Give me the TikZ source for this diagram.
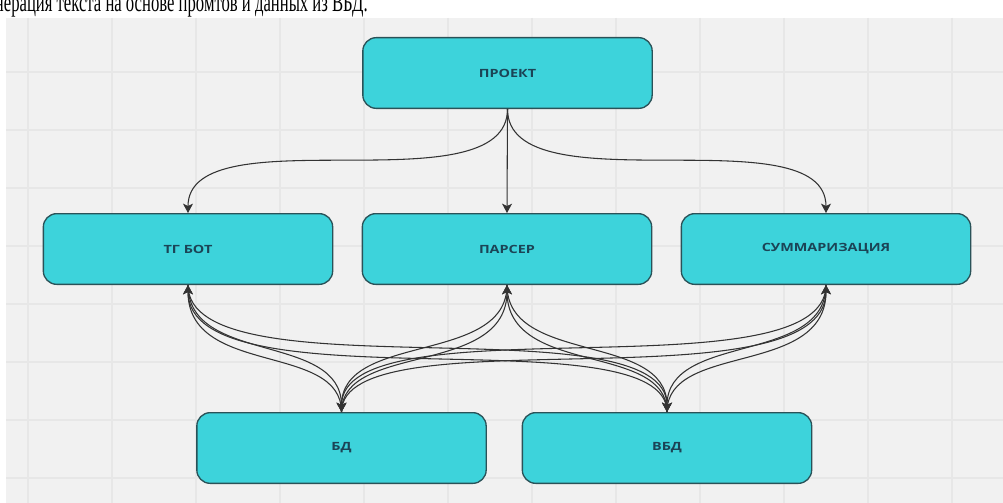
\documentclass[tikz,border=0pt]{standalone}
\usepackage{fontspec}
\usepackage{graphicx}
\setmainfont{Liberation Serif}
\newfontfamily\boxfont{Open Sans}
\usetikzlibrary{arrows.meta}
\definecolor{panel}{HTML}{F1F1F1}
\definecolor{gridc}{HTML}{E7E7E7}
\definecolor{boxfill}{HTML}{3DD3DB}
\definecolor{boxline}{HTML}{2A5258}
\definecolor{boxtext}{HTML}{1B4456}
\definecolor{linec}{HTML}{333333}
\tikzset{
  box/.style={draw=boxline, line width=1pt, fill=boxfill, rounded corners=10pt,
    minimum width=217pt, minimum height=53pt, inner sep=0pt,
    text=boxtext, font=\boxfont\bfseries\fontsize{8.5}{10}\selectfont},
  conn/.style={draw=linec, line width=0.8pt, -{Stealth[length=7pt,width=7.5pt,inset=1.8pt]}},
}
\newcommand{\wide}[1]{\scalebox{1.27}[1]{#1}}
\begin{document}
\begin{tikzpicture}[x=0.75pt,y=-0.75pt]
\useasboundingbox (0,0) rectangle (1003,503);
\clip (0,0) rectangle (1003,503);
\fill[white] (0,0) rectangle (1003,503);
% caption text, cut at top as in the reference
\node[anchor=base east, inner sep=0pt, font=\fontsize{12.5}{14}\selectfont] (cap) at (368,11.5) {\scalebox{1}[1.6]{Генерация текста на основе промтов и данных из ВБД.}};
% panel with grid
\fill[panel] (6,18) rectangle (1003,503);
\begin{scope}
\clip (6,18) rectangle (1003,503);
\foreach \x in {28,112,...,1003} \draw[gridc, line width=1.2pt] (\x,18) -- (\x,503);
\foreach \y in {72,130,...,503} \draw[gridc, line width=1.2pt] (6,\y) -- (1003,\y);
\end{scope}
% nodes
\node[box] (proj) at (507.5,73) {\wide{ПРОЕКТ}};
\node[box] (tg)   at (188,249) {\wide{ТГ БОТ}};
\node[box] (pars) at (507,249) {\wide{ПАРСЕР}};
\node[box] (sum)  at (826,249) {\wide{СУММАРИЗАЦИЯ}};
\node[box] (bd)   at (341.5,448) {\wide{БД}};
\node[box] (vbd)  at (667,448) {\wide{ВБД}};
% top connectors
\draw[conn] (proj.south) -- (pars.north);
\draw[conn] (proj.south) .. controls +(0,100) and +(0,-100) .. (tg.north);
\draw[conn] (proj.south) .. controls +(0,100) and +(0,-100) .. (sum.north);
% bottom connectors, short pairs (both directions)
\foreach \a/\b in {tg/bd,pars/bd,pars/vbd,sum/vbd}{
  \draw[conn] (\a.south) .. controls +(0,80) and +(0,-80) .. (\b.north);
  \draw[conn] (\b.north) .. controls +(0,-70) and +(0,92) .. (\a.south);
}
% bottom connectors, long pairs (both directions)
\foreach \a/\b in {tg/vbd,sum/bd}{
  \draw[conn] (\a.south) .. controls +(0,112) and +(0,-112) .. (\b.north);
  \draw[conn] (\b.north) .. controls +(0,-100) and +(0,125) .. (\a.south);
}
\end{tikzpicture}
\end{document}
